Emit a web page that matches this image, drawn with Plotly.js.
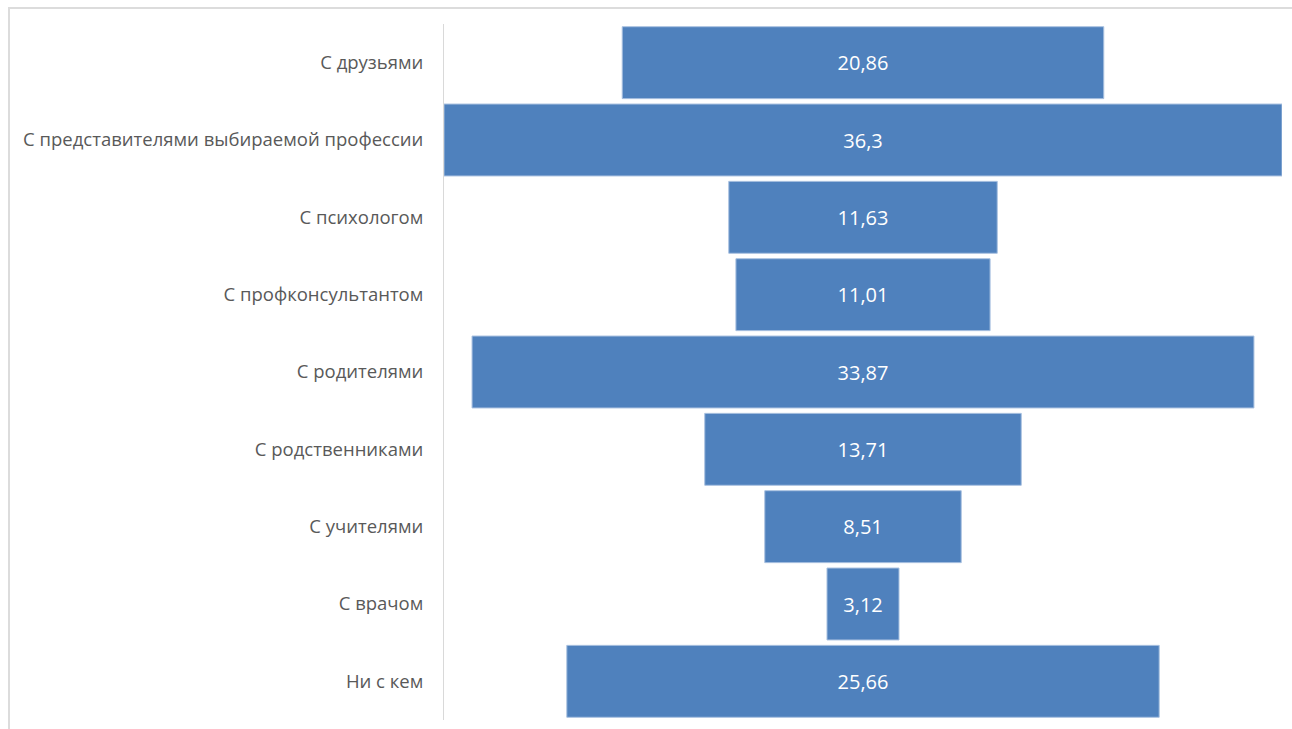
<!DOCTYPE html>
<html>
<head>
<meta charset="utf-8">
<script src="https://cdn.plot.ly/plotly-3.0.1.min.js"></script>
<style>
  html, body { margin: 0; padding: 0; background: #fff; }
  #wrap { position: relative; width: 1292px; height: 729px; overflow: hidden; }
  #frame { position: absolute; left: 8px; top: 7px; width: 1400px; height: 800px;
           border-top: 2px solid #dcdcdc; border-left: 2px solid #dcdcdc; pointer-events: none; }
  #chart { position: absolute; left: 0; top: 0; width: 1292px; height: 729px; }
</style>
</head>
<body>
<div id="wrap">
  <div id="chart"></div>
  <div id="frame"></div>
</div>
<script>
const categories = [
  "С друзьями",
  "С представителями выбираемой профессии",
  "С психологом",
  "С профконсультантом",
  "С родителями",
  "С родственниками",
  "С учителями",
  "С врачом",
  "Ни с кем"
];
const values = [20.86, 36.3, 11.63, 11.01, 33.87, 13.71, 8.51, 3.12, 25.66];
const valueLabels = values.map(v => String(v).replace('.', ','));

const maxVal = Math.max(...values);

const trace = {
  type: 'funnel',
  y: categories,
  x: values,
  text: valueLabels,
  textinfo: 'text',
  textposition: 'inside',
  insidetextanchor: 'middle',
  textfont: { family: 'Open Sans, sans-serif', size: 20, color: '#ffffff' },
  marker: { color: '#4f81bd', line: { color: '#a9c1e0', width: 1 } },
  connector: { visible: false },
  hoverinfo: 'none'
};

const layout = {
  width: 1292,
  height: 729,
  margin: { l: 444, r: 10, t: 24, b: 9 },
  paper_bgcolor: '#ffffff',
  plot_bgcolor: '#ffffff',
  funnelgap: 0.07,
  showlegend: false,
  xaxis: { visible: false, range: [-maxVal / 2, maxVal / 2], fixedrange: true },
  yaxis: {
    autorange: false,
    range: [categories.length - 0.5, -0.5],
    showline: true,
    linecolor: '#d9d9d9',
    linewidth: 1,
    showgrid: false,
    zeroline: false,
    ticks: '',
    ticklabelstandoff: 16,
    tickfont: { family: 'Open Sans, sans-serif', size: 18.5, color: '#595959' }
  }
};

Plotly.newPlot('chart', [trace], layout, { displayModeBar: false, staticPlot: true });
</script>
</body>
</html>
